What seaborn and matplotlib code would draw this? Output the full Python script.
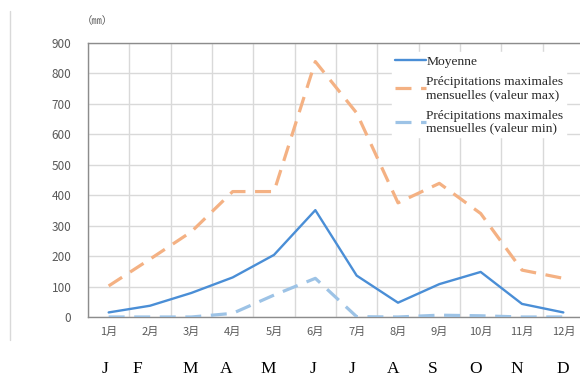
"""
Précipitations mensuelles : moyenne + max/min mensuels (mm)
"""

import matplotlib
matplotlib.use("Agg")
import matplotlib.pyplot as plt
from matplotlib.lines import Line2D
import numpy as np
import pandas as pd
import seaborn as sns

# ── Données ───────────────────────────────────────────────────────────────
MOIS = ["1月", "2月", "3月", "4月", "5月", "6月",
        "7月", "8月", "9月", "10月", "11月", "12月"]
LETTRES = ["J", "F", "M", "A", "M", "J", "J", "A", "S", "O", "N", "D"]

moyenne = [15, 37, 79, 130, 204, 351, 136, 47, 108, 148, 43, 15]
val_max = [102, 190, 280, 412, 412, 839, 670, 375, 439, 340, 154, 127]
val_min = [0, 0, 0, 12, 72, 127, 1, 0, 6, 4, 0, 0]

LBL_MOY = "Moyenne"
LBL_MAX = "Précipitations maximales\nmensuelles (valeur max)"
LBL_MIN = "Précipitations maximales\nmensuelles (valeur min)"

# position horizontale (px) des lettres sous le graphique
LETTRES_X = [105, 137, 190, 226, 268, 313, 352, 393, 433, 476, 517, 563]

# ── Style ─────────────────────────────────────────────────────────────────
sns.set_style("white")
plt.rcParams["font.family"] = ["Noto Sans CJK JP", "DejaVu Sans"]

C_MOY = "#4A8ED6"
C_MAX = "#F4B183"
C_MIN = "#9DC3E6"
GRIS = "#595959"

W, H = 580, 376
fig = plt.figure(figsize=(W / 100, H / 100), dpi=100)
ax = fig.add_axes([88 / W, (H - 317) / H, (584 - 88) / W, (317 - 43) / H])

df = pd.DataFrame({"x": np.arange(len(MOIS)), "moy": moyenne,
                   "max": val_max, "min": val_min})

sns.lineplot(data=df, x="x", y="moy", ax=ax, color=C_MOY, lw=1.7,
             label=LBL_MOY, zorder=4)
sns.lineplot(data=df, x="x", y="max", ax=ax, color=C_MAX, lw=2.3,
             dashes=(5, 3), label=LBL_MAX, zorder=3)
sns.lineplot(data=df, x="x", y="min", ax=ax, color=C_MIN, lw=2.3,
             dashes=(5, 3), label=LBL_MIN, zorder=3)

ax.set_xlim(-0.5, len(MOIS) - 0.5)
ax.set_ylim(0, 900)
ax.set_yticks(range(0, 901, 100))
ax.set_xticks(df["x"])
ax.set_xticklabels(MOIS)
ax.set_xticks(np.arange(-0.5, len(MOIS)), minor=True)
ax.set_xlabel("")
ax.set_ylabel("")

ax.grid(False)
ax.grid(axis="y", which="major", color="#D9D9D9", lw=1)
ax.grid(axis="x", which="minor", color="#D9D9D9", lw=1)
ax.tick_params(axis="both", which="both", length=0)
ax.tick_params(axis="y", labelsize=8.5, colors=GRIS, pad=12)
ax.tick_params(axis="x", labelsize=8, colors=GRIS, pad=7)

for s in ["left", "bottom", "top"]:
    ax.spines[s].set_color("#8C8C8C")
    ax.spines[s].set_linewidth(1)
ax.spines["right"].set_visible(False)

leg = ax.legend(loc="upper left", bbox_to_anchor=(0.599, 0.99),
                prop={"family": "Liberation Serif", "size": 9.7},
                handlelength=2.35, handletextpad=0.0, labelspacing=0.65,
                borderpad=0.2, frameon=True, fancybox=False)
leg.get_frame().set_facecolor("white")
leg.get_frame().set_edgecolor("white")
leg.get_frame().set_alpha(1)
for t in leg.get_texts():
    t.set_linespacing(1.05)

# unité
fig.text(82 / W, 1 - 21 / H, "（㎜）", fontsize=7.5, color=GRIS,
         ha="left", va="center")

# trait vertical à gauche
fig.add_artist(Line2D([9.5 / W, 9.5 / W], [1 - 11 / H, 1 - 340 / H],
                      color="#D9D9D9", lw=1))

# lettres des mois
for lettre, xp in zip(LETTRES, LETTRES_X):
    fig.text(xp / W, 1 - 369 / H, lettre, fontsize=12.5,
             family="Liberation Serif", color="black",
             ha="center", va="center")

fig.savefig("out.png", dpi=100)
